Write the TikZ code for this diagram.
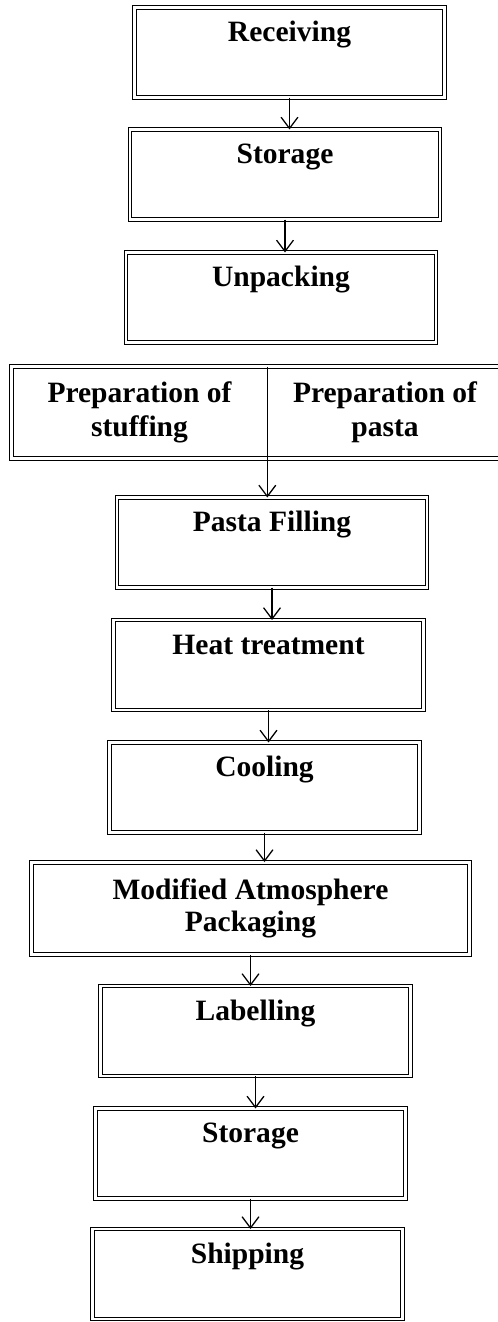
\documentclass[tikz,border=0pt]{standalone}
\usepackage{fontspec}
\setmainfont{Liberation Serif}
\usetikzlibrary{arrows.meta}

\tikzset{
    boxline/.style={draw, double, double distance=2pt, line width=0.7pt},
    stepbox/.style={boxline, minimum width=7.75cm, inner sep=0pt, outer sep=0pt,
        text height=0.85cm, text depth=1.4cm,
        font=\fontsize{21}{23}\selectfont\bfseries},
    flowarrow/.style={-{Straight Barb[length=8pt,width=12pt]}, line width=0.9pt},
}

\begin{document}
\begin{tikzpicture}[x=0.025cm, y=-0.025cm]
                \useasboundingbox (0,0) rectangle (498,1322);
                \clip (0,0) rectangle (498,1322);

                \node[stepbox] (recv) at (289.5,52.5) {Receiving};
                \node[stepbox] (stor) at (285,174.5) {Storage};
                \node[stepbox] (unpk) at (281,297.5) {Unpacking};

                % 準備 (二つに分かれた箱)
                \node[minimum width=6.375cm, minimum height=2.275cm, align=center,
                      font=\fontsize{21}{24}\selectfont\bfseries]
                      (stuff) at (139.5,412.5) {Preparation of\\stuffing};
                \node[minimum width=5.9cm, minimum height=2.275cm, align=center,
                      font=\fontsize{21}{24}\selectfont\bfseries]
                      (pasta) at (385,412.5) {Preparation of\\pasta};
                \draw[boxline] (stuff.south west) rectangle (pasta.north east);

                \node[stepbox] (fill) at (272,542.5) {Pasta Filling};
                \node[stepbox] (heat) at (268.5,665) {Heat treatment};
                \node[stepbox] (cool) at (264.5,787.5) {Cooling};
                \node[boxline, minimum width=10.95cm, minimum height=2.3cm, align=center,
                      font=\fontsize{21}{23}\selectfont\bfseries]
                      (map) at (250.5,908.5) {Modified Atmosphere\\Packaging};
                \node[stepbox] (label) at (255.5,1031) {Labelling};
                \node[stepbox] (store) at (250.5,1153.5) {Storage};
                \node[stepbox] (ship) at (247.5,1274) {Shipping};

                % 矢印 (for ループ使用)
                \foreach \a/\b in {recv/stor, stor/unpk, fill/heat, heat/cool,
                                   cool/map, map/label, label/store, store/ship} {
                    \draw[flowarrow] (\a.south) -- (\a.south |- \b.north);
                }
                \draw[flowarrow] (stuff.north east) -- (stuff.north east |- fill.north);
\end{tikzpicture}
\end{document}
